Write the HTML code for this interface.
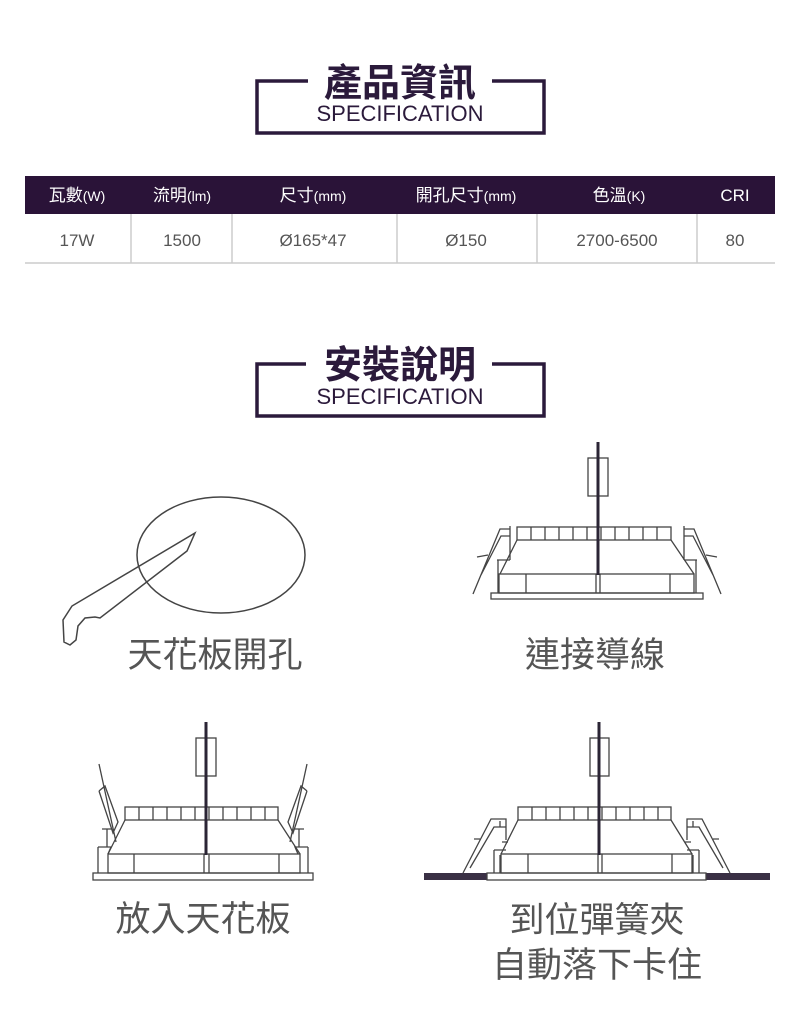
<!DOCTYPE html>
<html><head><meta charset="utf-8"><style>
html,body{margin:0;padding:0;background:#fff;}
svg{display:block}
</style></head><body>
<svg width="800" height="1028" viewBox="0 0 800 1028" xmlns="http://www.w3.org/2000/svg">
<g font-family="Liberation Sans, Noto Sans CJK TC, sans-serif">
<!-- Title 1 -->
<g stroke="#2b1a3b" stroke-width="3.5" fill="none">
<polyline points="308,81 257,81 257,133 544,133 544,81 492,81"/>
</g>
<text x="400" y="96" text-anchor="middle" font-size="38" font-weight="bold" fill="#2b1a3b" font-family="Noto Sans CJK TC, sans-serif">產品資訊</text>
<text x="400" y="121" text-anchor="middle" font-size="22" fill="#2b1a3b">SPECIFICATION</text>

<!-- Table -->
<rect x="25" y="176" width="750" height="38" fill="#2a1338"/>
<g fill="#fff" font-size="17" text-anchor="middle" font-family="Liberation Sans, Noto Sans CJK TC, sans-serif">
<text x="77" y="201">瓦數<tspan font-size="14">(W)</tspan></text>
<text x="182" y="201">流明<tspan font-size="14">(lm)</tspan></text>
<text x="313" y="201">尺寸<tspan font-size="14">(mm)</tspan></text>
<text x="466" y="201">開孔尺寸<tspan font-size="14">(mm)</tspan></text>
<text x="619" y="201">色溫<tspan font-size="14">(K)</tspan></text>
<text x="735" y="201">CRI</text>
</g>
<g stroke="#ccc" stroke-width="1.5">
<line x1="25" y1="263" x2="775" y2="263"/>
<line x1="131" y1="214" x2="131" y2="263"/>
<line x1="232" y1="214" x2="232" y2="263"/>
<line x1="397" y1="214" x2="397" y2="263"/>
<line x1="537" y1="214" x2="537" y2="263"/>
<line x1="697" y1="214" x2="697" y2="263"/>
</g>
<g fill="#555" font-size="17" text-anchor="middle">
<text x="77" y="246">17W</text>
<text x="182" y="246">1500</text>
<text x="313" y="246">Ø165*47</text>
<text x="466" y="246">Ø150</text>
<text x="617" y="246">2700-6500</text>
<text x="735" y="246">80</text>
</g>

<!-- Title 2 -->
<g stroke="#2b1a3b" stroke-width="3.5" fill="none">
<polyline points="306,364 257,364 257,416 544,416 544,364 492,364"/>
</g>
<text x="400" y="378" text-anchor="middle" font-size="38" font-weight="bold" fill="#2b1a3b" font-family="Noto Sans CJK TC, sans-serif">安裝說明</text>
<text x="400" y="404" text-anchor="middle" font-size="22" fill="#2b1a3b">SPECIFICATION</text>

<!-- Ill 1 -->
<g fill="none" stroke="#444" stroke-width="1.5">
<ellipse cx="221" cy="555" rx="84" ry="58"/>
<path d="M195,533 L187,551 L100,618 L95,617 L85,618 L78,626 L76,640 L70,645 L64,642 L63,620 L72,606 Z"/>
</g>
<text x="215" y="667" text-anchor="middle" font-size="35" fill="#555" font-family="Noto Sans CJK TC, sans-serif">天花板開孔</text>

<!-- Ill 2 -->
<g fill="none" stroke="#444" stroke-width="1.3">
<rect x="588" y="458" width="20" height="38"/>
<rect x="517" y="527" width="154" height="13"/>
<path d="M531,527v13M545,527v13M559,527v13M573,527v13M587,527v13M601,527v13M615,527v13M629,527v13M643,527v13M657,527v13"/>
<path d="M517,540 L500,574 M671,540 L694,574"/>
<rect x="499" y="574" width="195" height="19"/>
<path d="M526,574v19M596,574v19M600,574v19M670,574v19"/>
<rect x="491" y="593" width="212" height="6"/>
<g id="s2">
<path d="M473,594 L500,529 L510,529 M510,526 V560 M481,575 L501,536 L510,536 M497,560 L510,560 M498,560 V593 M477,557 L488,555"/>
</g>
<use href="#s2" transform="translate(1194,0) scale(-1,1)"/>
</g>
<line x1="598" y1="442" x2="598" y2="575" stroke="#2b2535" stroke-width="3"/>
<text x="595" y="667" text-anchor="middle" font-size="35" fill="#555" font-family="Noto Sans CJK TC, sans-serif">連接導線</text>

<!-- Ill 3 -->
<g fill="none" stroke="#444" stroke-width="1.3">
<rect x="196" y="738" width="20" height="38"/>
<rect x="125" y="807" width="153" height="13"/>
<path d="M139,807v13M153,807v13M167,807v13M181,807v13M195,807v13M209,807v13M223,807v13M237,807v13M251,807v13M265,807v13"/>
<path d="M125,820 L108,854 M278,820 L300,854"/>
<rect x="108" y="854" width="192" height="19"/>
<path d="M134,854v19M204,854v19M209,854v19M279,854v19"/>
<rect x="93" y="873" width="220" height="7"/>
<g id="s3">
<path d="M99,764 L116,842 M99,791 L113,833 L118,822 L105,786 L99,791 M102,829 H112 M107,829 V847 M98,847 H111 L108,854 M98,847 V873"/>
</g>
<use href="#s3" transform="translate(406,0) scale(-1,1)"/>
</g>
<line x1="206" y1="722" x2="206" y2="855" stroke="#2b2535" stroke-width="3"/>
<text x="203" y="931" text-anchor="middle" font-size="35" fill="#555" font-family="Noto Sans CJK TC, sans-serif">放入天花板</text>

<!-- Ill 4 -->
<rect x="424" y="873" width="63" height="7" fill="#3a3045"/>
<rect x="706" y="873" width="64" height="7" fill="#3a3045"/>
<g fill="none" stroke="#444" stroke-width="1.3">
<rect x="590" y="738" width="19" height="38"/>
<rect x="518" y="807" width="153" height="13"/>
<path d="M532,807v13M546,807v13M560,807v13M574,807v13M588,807v13M602,807v13M616,807v13M630,807v13M644,807v13M658,807v13"/>
<path d="M518,820 L501,854 M671,820 L692,854"/>
<rect x="501" y="854" width="191" height="19"/>
<path d="M528,854v19M598,854v19M602,854v19M672,854v19"/>
<rect x="487" y="873" width="219" height="7"/>
<g id="s4">
<path d="M463,873 L491,819 H506 V840 M470,868 L494,827 H506 M500,821 V827 M474,839 H480 M502,842 H508 M494,850 H506 M494,850 V873 M500,855 V873"/>
</g>
<use href="#s4" transform="translate(1193,0) scale(-1,1)"/>
</g>
<line x1="599" y1="722" x2="599" y2="855" stroke="#2b2535" stroke-width="3"/>
<text x="597" y="932" text-anchor="middle" font-size="35" fill="#555" font-family="Noto Sans CJK TC, sans-serif">到位彈簧夾</text>
<text x="597" y="977" text-anchor="middle" font-size="35" fill="#555" font-family="Noto Sans CJK TC, sans-serif">自動落下卡住</text>
</g>
</svg>
</body></html>
